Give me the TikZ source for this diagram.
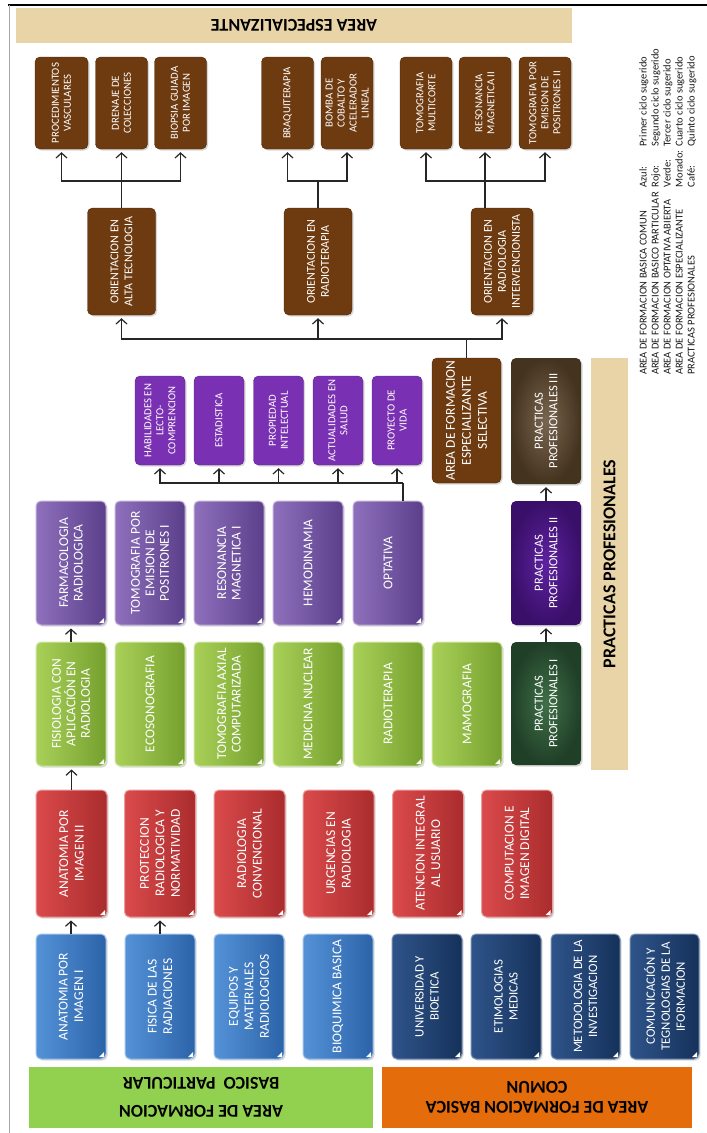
\documentclass[tikz,border=0pt]{standalone}
\usepackage{fontspec}
\setmainfont{Carlito}
\usetikzlibrary{arrows.meta,shadows,calc}
\definecolor{brw}{HTML}{6E3A0F}
\definecolor{tan}{HTML}{E8D4A6}
\definecolor{prp}{HTML}{7A30B2}
\definecolor{lavL}{HTML}{8E70BC}
\definecolor{lavD}{HTML}{5C3F8A}
\definecolor{grnL}{HTML}{A9D159}
\definecolor{grnD}{HTML}{76A02E}
\definecolor{redL}{HTML}{DA4A4B}
\definecolor{redD}{HTML}{AA2C2D}
\definecolor{bluL}{HTML}{5492D8}
\definecolor{bluD}{HTML}{2C63A8}
\definecolor{dbL}{HTML}{2F548A}
\definecolor{dbD}{HTML}{15315A}
\definecolor{barG}{HTML}{92D050}
\definecolor{barO}{HTML}{E46C0A}
\definecolor{pp1i}{HTML}{3F7048}
\definecolor{pp1o}{HTML}{203F27}
\definecolor{pp2i}{HTML}{5E22A0}
\definecolor{pp2o}{HTML}{3A0F6A}
\definecolor{pp3i}{HTML}{7A6650}
\definecolor{pp3o}{HTML}{44331F}
\begin{document}
\begin{tikzpicture}[x=1pt,y=-1pt,
  sz/.style 2 args={minimum height=#1, minimum width=#2},
  box/.style={rotate=90, rounded corners=5pt, align=center, text=white, inner sep=1.5pt,
    drop shadow={opacity=0.3, shadow xshift=1.5pt, shadow yshift=-1.5pt}},
  tbox/.style={box, fill=brw, draw=brw!70!black, font=\fontsize{10.8}{12}\selectfont},
  obox/.style={box, fill=brw, draw=brw!70!black, font=\fontsize{12}{14}\selectfont},
  sbox/.style={box, fill=prp, draw=prp!80!black, font=\fontsize{10.8}{12}\selectfont},
  gl/.style={box, line width=1pt, font=\fontsize{13.5}{14.5}\selectfont},
  lbox/.style={gl, left color=lavL, right color=lavD, draw=lavL!55!white},
  gbox/.style={gl, left color=grnL, right color=grnD, draw=grnL!55!white},
  rbox/.style={gl, left color=redL, right color=redD, draw=redL!55!white, font=\fontsize{13.5}{15.5}\selectfont},
  bbox/.style={gl, left color=bluL, right color=bluD, draw=bluL!55!white, font=\fontsize{13.5}{15.5}\selectfont},
  dbox/.style={gl, left color=dbL, right color=dbD, draw=dbL!65!white, font=\fontsize{12.8}{15}\selectfont},
  ppbox/.style={box, font=\fontsize{12.5}{14.5}\selectfont},
  banner/.style={fill=tan, inner sep=0pt, font=\fontsize{18}{20}\selectfont\bfseries},
  conn/.style={line width=1.2pt, draw=black!85},
  arr/.style={conn, -{Straight Barb[length=5pt,width=11pt,line width=1.2pt]}, shorten >=3pt},
  curl/.style={fill=white}
]
\useasboundingbox (0,0) rectangle (707,1133);
\fill[white] (0,0) rectangle (707,1133);
\draw[line width=2pt] (8,5) -- (707,5);
\draw[black!35, line width=1pt] (9,5) -- (9,1133);

% banners
\node[banner, rotate=180, minimum width=556, minimum height=35] (bTop) at (294,25.5) {AREA ESPECIALIZANTE};
\node[banner, rotate=90, minimum width=412, minimum height=37] (bPP) at (609.5,564) {PRACTICAS PROFESIONALES};
\node[rotate=180, fill=barG, minimum width=344, minimum height=61, align=center, inner sep=0pt, font=\fontsize{18}{18}\selectfont\bfseries] (bBP) at (201,1097.5) {AREA DE FORMACION\\[10pt]BASICO\ \ PARTICULAR};
\node[rotate=180, fill=barO, minimum width=310, minimum height=61, align=center, inner sep=0pt, font=\fontsize{18}{20}\selectfont\bfseries] (bBC) at (537,1097.5) {AREA DE FORMACION BASICA\\COMUN};

% legend
\node[rotate=90, anchor=north west, inner sep=0pt, text=black!90, font=\fontsize{10.5}{12}\selectfont] (leg) at (638,375) {%
\begin{tabular}{@{}l@{\hspace{5pt}}l@{\hspace{4pt}}l@{}}
AREA DE FORMACION BASICA COMUN & Azul: & Primer ciclo sugerido\\
AREA DE FORMACION BASICO PARTICULAR & Rojo: & Segundo ciclo sugerido\\
AREA DE FORMACION OPTATIVA ABIERTA & Verde: & Tercer ciclo sugerido\\
AREA DE FORMACION ESPECIALIZANTE & Morado: & Cuarto ciclo sugerido\\
PRACTICAS PROFESIONALES & Café: & Quinto ciclo sugerido
\end{tabular}};

% top brown boxes
\node[tbox, sz={53}{92}] (t1) at (61.5,103) {PROCEDIMIENTOS\\VASCULARES};
\node[tbox, sz={52}{92}] (t2) at (121.5,103) {DRENAJE DE\\COLECCIONES};
\node[tbox, sz={52}{92}] (t3) at (180.5,103) {BIOPSIA GUIADA\\POR IMAGEN};
\node[tbox, sz={52}{92}] (t4) at (287.5,103) {BRAQUITERAPIA};
\node[tbox, sz={52}{92}] (t5) at (347,103) {BOMBA DE\\COBALTO Y\\ACELERADOR\\LINEAL};
\node[tbox, sz={52}{92}] (t6) at (426,103) {TOMOGRAFIA\\MULTICORTE};
\node[tbox, sz={52}{92}] (t7) at (485,103) {RESONANCIA\\MAGNETICA II};
\node[tbox, sz={52}{92}] (t8) at (545,103) {TOMOGRAFIA POR\\EMISION DE\\POSITRONES II};

% orientation boxes
\node[obox, sz={68}{107}] (o1) at (121.5,261.5) {ORIENTACION EN\\ALTA TECNOLOGIA};
\node[obox, sz={68}{107}] (o2) at (318,261.5) {ORIENTACION EN\\RADIOTERAPIA};
\node[obox, sz={62}{107}] (o3) at (502,261.5) {ORIENTACION EN\\RADIOLOGIA\\INTERVENCIONISTA};

% small purple boxes
\node[sbox, sz={50}{89}] (s1) at (160,420.5) {HABILIDADES EN\\LECTO-\\COMPRENCION};
\node[sbox, sz={50}{89}] (s2) at (219,420.5) {ESTADISTICA};
\node[sbox, sz={50}{89}] (s3) at (278.5,420.5) {PROPIEDAD\\INTELECTUAL};
\node[sbox, sz={50}{89}] (s4) at (338,420.5) {ACTUALIDADES EN\\SALUD};
\node[sbox, sz={50}{89}] (s5) at (397,420.5) {PROYECTO DE\\VIDA};

% selective + practicas
\node[box, fill=brw, draw=brw!70!black, font=\fontsize{13.5}{16}\selectfont, sz={69}{125}] (sel) at (466.5,420.5) {AREA DE FORMACION\\ESPECIALIZANTE\\SELECTIVA};
\node[ppbox, sz={70}{126}, inner color=pp3i, outer color=pp3o] (pp3) at (546,421) {PRACTICAS\\PROFESIONALES III};
\node[ppbox, sz={70}{124}, inner color=pp2i, outer color=pp2o] (pp2) at (546,563) {PRACTICAS\\PROFESIONALES II};
\node[ppbox, sz={70}{123}, inner color=pp1i, outer color=pp1o] (pp1) at (546,703.5) {PRACTICAS\\PROFESIONALES I};

% purple big boxes
\node[lbox, sz={70}{124}] (p1) at (71,563) {FARMACOLOGIA\\RADIOLOGICA};
\node[lbox, sz={70}{124}] (p2) at (150,563) {TOMOGRAFIA POR\\EMISION DE\\POSITRONES I};
\node[lbox, sz={70}{124}] (p3) at (229,563) {RESONANCIA\\MAGNETICA I};
\node[lbox, sz={70}{124}] (p4) at (308,563) {HEMODINAMIA};
\node[lbox, sz={70}{124}] (opt) at (388,563) {OPTATIVA};

% green boxes
\node[gbox, sz={70}{124}] (g1) at (71,704) {FISIOLOGIA CON\\APLICACIÓN EN\\RADIOLOGIA};
\node[gbox, sz={70}{124}] (g2) at (150,704) {ECOSONOGRAFIA};
\node[gbox, sz={70}{124}] (g3) at (229,704) {TOMOGRAFIA AXIAL\\COMPUTARIZADA};
\node[gbox, sz={70}{124}] (g4) at (308,704) {MEDICINA NUCLEAR};
\node[gbox, sz={70}{124}] (g5) at (388,704) {RADIOTERAPIA};
\node[gbox, sz={70}{124}] (g6) at (467,704) {MAMOGRAFIA};

% red boxes
\node[rbox, sz={71}{127}] (r1) at (71.5,853.5) {ANATOMIA POR\\IMAGEN II};
\node[rbox, sz={71}{127}] (r2) at (160,853.5) {PROTECCION\\RADIOLOGICA Y\\NORMATIVIDAD};
\node[rbox, sz={71}{127}] (r3) at (249.5,853.5) {RADIOLOGIA\\CONVENCIONAL};
\node[rbox, sz={71}{127}] (r4) at (338.5,853.5) {URGENCIAS EN\\RADIOLOGIA};
\node[rbox, sz={71}{127}] (r5) at (428,853.5) {ATENCION INTEGRAL\\AL USUARIO};
\node[rbox, sz={71}{127}] (r6) at (517,853.5) {COMPUTACION E\\IMAGEN DIGITAL};

% blue boxes
\node[bbox, sz={70}{125}] (b1) at (71,996.5) {ANATOMIA POR\\IMAGEN I};
\node[bbox, sz={70}{125}] (b2) at (160,996.5) {FISICA DE LAS\\RADIACIONES};
\node[bbox, sz={70}{125}] (b3) at (249,996.5) {EQUIPOS Y\\MATERIALES\\RADIOLOGICOS};
\node[bbox, sz={70}{125}] (b4) at (338,996.5) {BIOQUIMICA BASICA};
\node[dbox, sz={70}{125}] (d1) at (427,996.5) {UNIVERSIDAD Y\\BIOETICA};
\node[dbox, sz={70}{125}] (d2) at (506,996.5) {ETIMOLOGIAS\\MEDICAS};
\node[dbox, sz={69}{125}] (d3) at (585.5,996.5) {METODOLOGIA DE LA\\INVESTIGACION};
\node[dbox, sz={69}{125}] (d4) at (664.5,996.5) {COMUNICACIÓN Y\\TEGNOLOGIAS DE LA\\IFORMACION};

% small page curls on glossy boxes
\foreach \n in {p1,p2,p3,p4,opt,g1,g2,g3,g4,g5,g6,r1,r2,r3,r4,r5,r6,b1,b2,b3,b4,d1,d2,d3,d4}
  \fill[curl] ($(\n.south west)+(-2.5,-2.5)$) -- ++(-5,0) -- ++(5,-5) -- cycle;

% connectors
\coordinate (busA) at (0,181);
\coordinate (busB) at (0,339);
\coordinate (busC) at (0,483);

\draw[conn] (o1.east) -- (o1.east |- busA);
\draw[arr] (o1.east |- busA) -| (t1.west);
\draw[arr] (o1.east |- busA) -- (t2.west);
\draw[arr] (o1.east |- busA) -| (t3.west);

\draw[conn] (o2.east) -- (o2.east |- busA);
\draw[arr] (o2.east |- busA) -| (t4.west);
\draw[arr] (o2.east |- busA) -| (t5.west);

\draw[conn] (o3.east -| t7.west) -- (t7.west |- busA);
\draw[arr] (t7.west |- busA) -| (t6.west);
\draw[arr] (t7.west |- busA) -- (t7.west);
\draw[arr] (t7.west |- busA) -| (t8.west);

\draw[conn] (sel.east) -- (sel.east |- busB);
\draw[arr] (sel.east |- busB) -| (o1.west);
\draw[arr] (sel.east |- busB) -| (o2.west);
\draw[arr] (sel.east |- busB) -| (o3.west);

\draw[conn] ([xshift=15pt]opt.east) -- ([xshift=15pt]opt.east |- busC) coordinate (jc);
\foreach \s in {s1,s2,s3,s4,s5} \draw[arr] (jc) -| (\s.west);

\draw[arr] (b1.east) -- (b1.east |- r1.west);
\draw[arr] (b2.east) -- (b2.east |- r2.west);
\draw[arr] (r1.east) -- (r1.east |- g1.west);
\draw[arr] (g1.east) -- (g1.east |- p1.west);
\draw[arr] (pp1.east) -- (pp2.west);
\draw[arr] (pp2.east) -- (pp3.west);
\end{tikzpicture}
\end{document}
